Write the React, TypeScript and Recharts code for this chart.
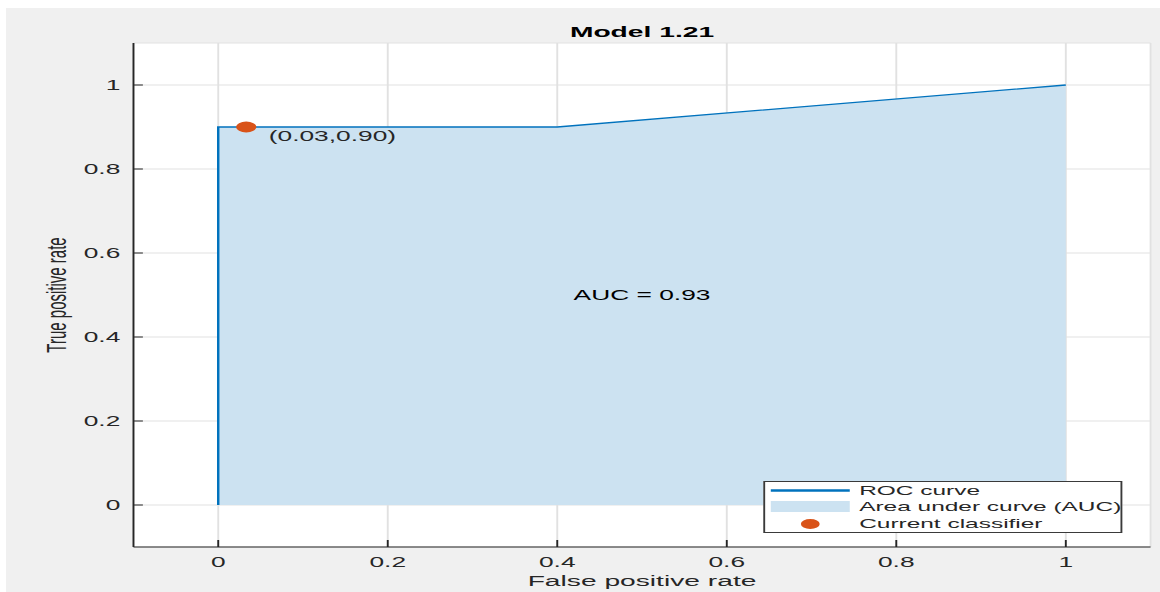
import React from "react";
import {
  ComposedChart,
  Area,
  Scatter,
  XAxis,
  YAxis,
  CartesianGrid,
  Legend,
} from "recharts";

// ROC curve points (false positive rate / true positive rate)
const fprValues = [0, 0, 0.4, 1];
const tprValues = [0, 0.9, 0.9, 1];
const classifierFpr = [0.033];
const classifierTpr = [0.9];
const classifierLabel = ["(0.03,0.90)"];
const aucText = ["AUC = 0.93"];
const aucFpr = [0.5];
const aucTpr = [0.5];
const xTicks = [0, 0.2, 0.4, 0.6, 0.8, 1];
const yTicks = [0, 0.2, 0.4, 0.6, 0.8, 1];
const legendLabels = ["ROC curve", "Area under curve (AUC)", "Current classifier"];

const rocData = fprValues.map((fpr, i) => ({ fpr, tpr: tprValues[i] }));
const classifierData = classifierFpr.map((fpr, i) => ({
  fpr,
  tpr: classifierTpr[i],
  label: classifierLabel[i],
}));
const aucData = aucFpr.map((fpr, i) => ({ fpr, tpr: aucTpr[i], label: aucText[i] }));

const FONT = '"Liberation Sans", Arial, Helvetica, sans-serif';
const INK = "#262626";
const BLUE = "#0072bd";
const AREA_FILL = "#cce2f1";
const ORANGE = "#d95319";
const GRID = "#e1e1e1";

// the reference picture is stretched horizontally; draw at natural size, then scale
const STRETCH = 1.88;
const W = 617;
const H = 592;

function YTick(props: any) {
  const { x, y, payload } = props;
  const axisX = x + 7;
  return (
    <g>
      <line x1={axisX} x2={axisX + 5} y1={y} y2={y} stroke={INK} strokeWidth={1} />
      <text
        x={x}
        y={y}
        dy="0.36em"
        textAnchor="end"
        fontSize={14}
        fontFamily={FONT}
        fill={INK}
      >
        {String(payload.value)}
      </text>
    </g>
  );
}

function XTick(props: any) {
  const { x, y, payload } = props;
  const axisY = y - 8;
  return (
    <g>
      <line x1={x} x2={x} y1={axisY} y2={axisY - 7} stroke={INK} strokeWidth={1} />
      <text
        x={x}
        y={y + 12}
        textAnchor="middle"
        fontSize={14}
        fontFamily={FONT}
        fill={INK}
      >
        {String(payload.value)}
      </text>
    </g>
  );
}

function ClassifierDot(props: any) {
  const { cx, cy, payload } = props;
  return (
    <g>
      <circle cx={cx} cy={cy} r={5.4} fill={ORANGE} />
      <text x={cx + 12} y={cy + 14} fontSize={14} fontFamily={FONT} fill={INK}>
        {payload.label}
      </text>
    </g>
  );
}

function AucLabel(props: any) {
  const { cx, cy, payload } = props;
  return (
    <text
      x={cx}
      y={cy}
      dy="0.36em"
      textAnchor="middle"
      fontSize={14}
      fontFamily={FONT}
      fill="#000"
    >
      {payload.label}
    </text>
  );
}

function RocLegend() {
  return (
    <div
      style={{
        position: "relative",
        width: 191,
        height: 52,
        boxSizing: "border-box",
        border: "1px solid #3a3a3a",
        background: "#fff",
        fontFamily: FONT,
        fontSize: 13,
        color: INK,
      }}
    >
      <svg width={189} height={50} style={{ position: "absolute", left: 0, top: 0 }}>
        <line x1={3} x2={45} y1={8.5} y2={8.5} stroke={BLUE} strokeWidth={2.4} />
        <rect x={3} y={19} width={42} height={11} fill={AREA_FILL} />
        <circle cx={24} cy={42} r={5} fill={ORANGE} />
      </svg>
      {legendLabels.map((t, i) => (
        <div
          key={t}
          style={{
            position: "absolute",
            left: 50,
            top: 0.5 + i * 16.5,
            lineHeight: "16px",
            whiteSpace: "nowrap",
          }}
        >
          {t}
        </div>
      ))}
    </div>
  );
}

export default function App() {
  return (
    <div
      style={{
        position: "absolute",
        left: 0,
        top: 0,
        width: 1160,
        height: 592,
        background: "#fff",
        overflow: "hidden",
      }}
    >
      <div
        style={{
          position: "absolute",
          left: 6,
          top: 8,
          width: 1154,
          height: 584,
          background: "#f0f0f0",
        }}
      />
      <div
        style={{
          position: "absolute",
          left: 0,
          top: 0,
          width: W,
          height: H,
          transform: `scaleX(${STRETCH})`,
          transformOrigin: "0 0",
        }}
      >
        <div
          style={{
            position: "absolute",
            left: 71,
            width: 541,
            top: 24,
            textAlign: "center",
            fontFamily: FONT,
            fontWeight: "bold",
            fontSize: 15,
            lineHeight: "15px",
            color: "#000",
          }}
        >
          Model 1.21
        </div>
        <ComposedChart
          width={W}
          height={H}
          data={rocData}
          margin={{ top: 43, right: 5, bottom: 0, left: 0 }}
        >
          <CartesianGrid stroke={GRID} fill="#fff" strokeWidth={1} />
          <XAxis
            dataKey="fpr"
            type="number"
            domain={[-0.1, 1.1]}
            ticks={xTicks}
            height={45}
            tickSize={8}
            tickMargin={0}
            tickLine={false}
            tick={<XTick />}
            axisLine={{ stroke: INK, strokeWidth: 1 }}
            allowDataOverflow
            label={{
              value: "False positive rate",
              position: "insideBottom",
              offset: 6,
              fontSize: 15,
              fontFamily: FONT,
              fill: INK,
            }}
          />
          <YAxis
            dataKey="tpr"
            type="number"
            domain={[-0.1, 1.1]}
            ticks={yTicks}
            width={71}
            tickSize={7}
            tickMargin={0}
            tickLine={false}
            tick={<YTick />}
            axisLine={{ stroke: INK, strokeWidth: 1 }}
            allowDataOverflow
            label={{
              value: "True positive rate",
              angle: -90,
              position: "insideLeft",
              offset: 30,
              fontSize: 15,
              fontFamily: FONT,
              fill: INK,
              style: { textAnchor: "middle" },
            }}
          />
          <Area
            type="linear"
            dataKey="tpr"
            baseValue={0}
            stroke={BLUE}
            strokeWidth={1.3}
            fill={AREA_FILL}
            fillOpacity={1}
            isAnimationActive={false}
            dot={false}
            activeDot={false}
          />
          <Scatter
            data={aucData}
            dataKey="tpr"
            shape={<AucLabel />}
            isAnimationActive={false}
          />
          <Scatter
            data={classifierData}
            dataKey="tpr"
            shape={<ClassifierDot />}
            isAnimationActive={false}
          />
          <Legend
            layout="vertical"
            align="center"
            verticalAlign="middle"
            content={<RocLegend />}
            wrapperStyle={{ left: 406, top: 481, width: 191, height: 52 }}
          />
        </ComposedChart>
      </div>
    </div>
  );
}
